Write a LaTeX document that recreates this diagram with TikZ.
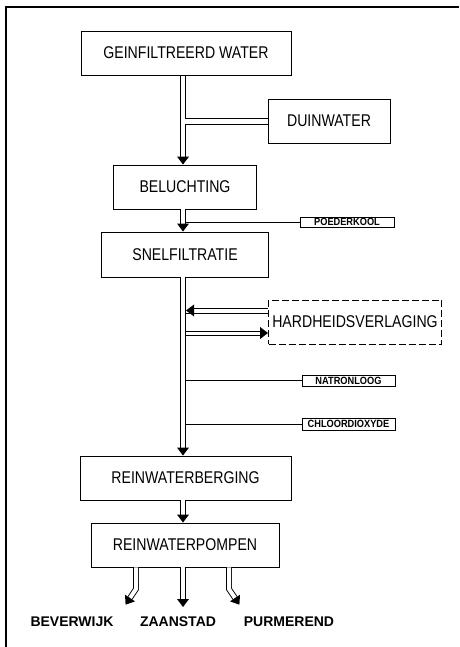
\documentclass[tikz,border=0pt]{standalone}
\usepackage{fontspec}
\usepackage{graphicx}
\setmainfont{Liberation Sans}
\usetikzlibrary{calc}
\newcommand\cnd[1]{\scalebox{0.83}[1]{#1}}
\newcommand\snd[1]{\scalebox{0.88}[1]{#1}}
\newcommand\arrowhd[2]{\fill ($(#1)!10pt!37:(#2)$) -- (#1) -- ($(#1)!10pt!-37:(#2)$) -- cycle;}
\begin{document}
\begin{tikzpicture}[x=1pt,y=-1pt,line width=0.9pt,
  box/.style={draw,rectangle,inner sep=0pt,font=\fontsize{17}{20}\selectfont},
  small/.style={draw,rectangle,inner sep=0pt,line width=0.8pt,font=\fontsize{10.5}{11}\selectfont\bfseries},
  lbl/.style={inner sep=0pt,font=\fontsize{14}{16}\selectfont\bfseries},
  pipe/.style={double,double distance=4pt,line width=0.9pt}]
\useasboundingbox (0,0) rectangle (459,647);
\draw[line width=1.2pt] (6,647) -- (6,7) -- (459,7);
% nodes
\node[box,minimum width=210pt,minimum height=44pt] (gw) at (186,53) {\cnd{GEINFILTREERD WATER}};
\node[box,minimum width=122pt,minimum height=44pt] (duin) at (329,121) {\cnd{DUINWATER}};
\node[box,minimum width=143pt,minimum height=44pt] (bel) at (185,187) {\cnd{BELUCHTING}};
\node[small,minimum width=94pt,minimum height=10pt] (poeder) at (347,222) {\snd{POEDERKOOL}};
\node[box,minimum width=167pt,minimum height=45pt] (snel) at (185,254.5) {\cnd{SNELFILTRATIE}};
\node[box,dashed,dash pattern=on 7pt off 3pt,minimum width=173pt,minimum height=44pt] (hard) at (355,322) {\cnd{HARDHEIDSVERLAGING}};
\node[small,minimum width=93pt,minimum height=11pt] (natron) at (348.5,380.5) {\snd{NATRONLOOG}};
\node[small,minimum width=93pt,minimum height=12pt] (chloor) at (348.5,424) {\snd{CHLOORDIOXYDE}};
\node[box,minimum width=211pt,minimum height=44pt] (rwb) at (185.5,478) {\cnd{REINWATERBERGING}};
\node[box,minimum width=188pt,minimum height=44pt] (rwp) at (185,545) {\cnd{REINWATERPOMPEN}};
\node[lbl] (bev) at (72,622) {BEVERWIJK};
\node[lbl] (zaan) at (178,622) {ZAANSTAD};
\node[lbl] (purm) at (289,622) {PURMEREND};
% pipe axes
\coordinate (L) at (180.5,0);
\coordinate (R) at (185.5,0);
\coordinate (C) at (183,0);
% GW + DUIN -> BEL
\coordinate (t1) at (bel.north -| C);
\draw (gw.south -| L) -- ($(t1)+(-2.5,-8)$);
\draw (gw.south -| R) |- ($(duin.west)+(0,-3)$);
\draw ($(duin.west)+(0,3)$) -| ($(t1)+(2.5,-8)$);
\arrowhd{t1}{C}
% BEL -> SNEL
\coordinate (t2) at (snel.north -| C);
\draw[pipe] (bel.south -| C) -- ($(t2)+(0,-8)$);
\arrowhd{t2}{C}
\draw (poeder.west) -- (poeder.west -| R);
% SNEL -> RWB
\coordinate (t3) at (rwb.north -| C);
\draw[pipe] (snel.south -| C) -- ($(t3)+(0,-8)$);
\arrowhd{t3}{C}
% HARD branches
\draw ($(hard.west)+(0,-14)$) -- +(-76,0);
\draw ($(hard.west)+(0,-9)$) -- +(-82.5,0);
\coordinate (tin) at ($(hard.west)+(-82,-11.5)$);
\coordinate (hin) at ($(hard.west)+(0,-11.5)$);
\arrowhd{tin}{hin}
\coordinate (tout) at ($(hard.west)+(0,11)$);
\coordinate (bout) at ($(hard.west)+(-82.5,11)$);
\draw ($(hard.west)+(-82.5,9)$) -- +(76,0);
\draw ($(hard.west)+(-82.5,13)$) -- +(76,0);
\arrowhd{tout}{bout}
% dosing lines
\draw (natron.west) -- (natron.west -| R);
\draw (chloor.west) -- (chloor.west -| R);
% RWB -> RWP
\coordinate (t4) at (rwp.north -| C);
\draw[pipe] (rwb.south -| C) -- ($(t4)+(0,-8)$);
\arrowhd{t4}{C}
% outputs
\coordinate (t5) at (183,607);
\draw[pipe] (rwp.south -| C) -- ($(t5)+(0,-8)$);
\arrowhd{t5}{C}
\coordinate (Lp) at (136,0);
\coordinate (tL) at (125.6,604.7);
\draw[pipe] (rwp.south -| Lp) -- (136,589) -- (130,598);
\arrowhd{tL}{136,589}
\coordinate (Rp) at (229,0);
\coordinate (tR) at (239.4,604.7);
\draw[pipe] (rwp.south -| Rp) -- (229,589) -- (235,598);
\arrowhd{tR}{229,589}
\end{tikzpicture}
\end{document}
